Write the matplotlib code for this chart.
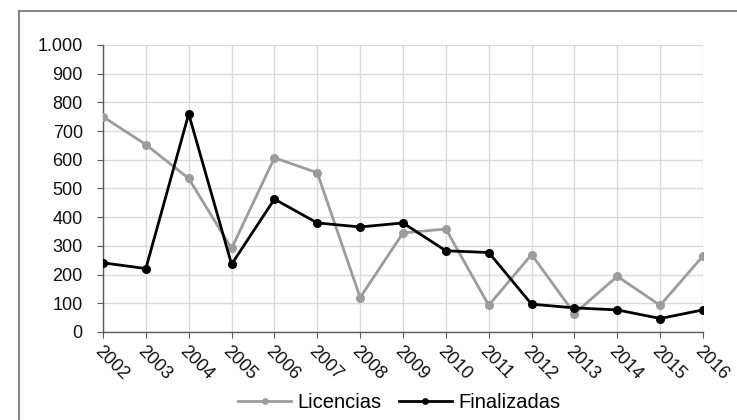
import matplotlib
matplotlib.use("Agg")
import matplotlib.pyplot as plt
from matplotlib.ticker import FuncFormatter, MultipleLocator
from matplotlib.lines import Line2D

years = [2002, 2003, 2004, 2005, 2006, 2007, 2008, 2009, 2010, 2011, 2012, 2013, 2014, 2015, 2016]
licencias = [750, 653, 535, 291, 607, 555, 120, 345, 359, 93, 270, 64, 194, 93, 265]
finalizadas = [241, 221, 760, 236, 463, 380, 366, 380, 283, 277, 97, 84, 77, 47, 77]
series_names = ["Licencias", "Finalizadas"]

plt.rcParams['font.family'] = ['Liberation Sans', 'DejaVu Sans']

fig = plt.figure(figsize=(7.37, 4.2), dpi=100)
ax = fig.add_axes([103/737, 1-332/420, 600/737, 287/420])

# outer border (top and left visible)
fig.add_artist(Line2D([19/737, 1.0], [1-11/420, 1-11/420], transform=fig.transFigure, color='#7a7a7a', lw=1.3))
fig.add_artist(Line2D([19/737, 19/737], [0, 1-11/420], transform=fig.transFigure, color='#7a7a7a', lw=1.3))

l1, = ax.plot(years, licencias, color='#9c9c9c', lw=2.0, marker='o', ms=5.5, label=series_names[0], zorder=3)
l2, = ax.plot(years, finalizadas, color='#000000', lw=2.0, marker='o', ms=5.5, label=series_names[1], zorder=4)

ax.set_xlim(years[0], years[-1])
ax.set_ylim(0, 1000)
ax.yaxis.set_major_locator(MultipleLocator(100))
ax.yaxis.set_major_formatter(FuncFormatter(lambda v, p: f"{int(v):,}".replace(",", ".")))
ax.set_xticks(years)
ax.set_xticklabels([str(y) for y in years], rotation=-45, ha='left', va='top', rotation_mode='anchor')

ax.grid(True, color='#dadada', lw=1.0, zorder=0)
ax.set_axisbelow(True)
for s in ['top', 'right']:
    ax.spines[s].set_visible(False)
for s in ['left', 'bottom']:
    ax.spines[s].set_color('#595959')
    ax.spines[s].set_linewidth(1.0)
ax.tick_params(axis='both', direction='out', length=4.5, color='#595959', labelsize=13, labelcolor='#111111')
ax.tick_params(axis='x', pad=3)
ax.tick_params(axis='y', pad=10)

fig.legend(handles=[l1, l2], loc='center', bbox_to_anchor=(399/737, 1-403/420), ncol=2, frameon=False,
           fontsize=14.5, handlelength=2.65, columnspacing=0.85, handletextpad=0.3, markerscale=0.7)

fig.savefig("out.png", dpi=100)
